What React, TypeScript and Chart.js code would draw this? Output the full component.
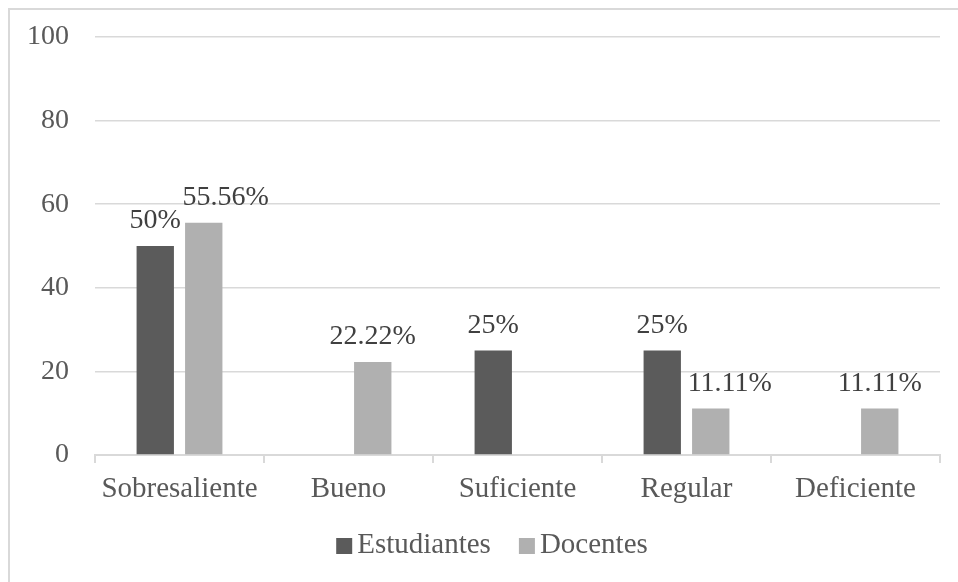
import React, { useEffect, useRef } from "react";
import { Chart, registerables } from "chart.js";

Chart.register(...registerables);

const categories = ["Sobresaliente", "Bueno", "Suficiente", "Regular", "Deficiente"];
const seriesNames = ["Estudiantes", "Docentes"];
const estudiantes = [50, 0, 25, 25, 0];
const docentes = [55.56, 22.22, 0, 11.11, 11.11];
const yTicks = [0, 20, 40, 60, 80, 100];

const FONT = '"Liberation Serif", "Times New Roman", serif';
const COLORS = ["#5b5b5b", "#b0b0b0"];
const TEXT = "#595959";
const LABEL = "#404040";
const GRID = "#d9d9d9";

// style: manual horizontal nudges of some data labels (datasetIndex-categoryIndex)
const labelShift: Record<string, number> = { "1-0": 22, "1-3": 19 };

const dataLabelsPlugin = {
  id: "dataLabels",
  afterDatasetsDraw(chart: any) {
    const ctx = chart.ctx;
    ctx.save();
    ctx.font = `28px ${FONT}`;
    ctx.fillStyle = LABEL;
    ctx.textAlign = "center";
    ctx.textBaseline = "alphabetic";
    chart.data.datasets.forEach((ds: any, di: number) => {
      const meta = chart.getDatasetMeta(di);
      meta.data.forEach((el: any, i: number) => {
        const v = ds.data[i];
        if (!v) return;
        const dx = labelShift[`${di}-${i}`] || 0;
        ctx.fillText(`${v}%`, el.x + dx, el.y - 18);
      });
    });
    ctx.restore();
  },
};

const legendPlugin = {
  id: "customLegend",
  afterDraw(chart: any) {
    const ctx = chart.ctx;
    ctx.save();
    ctx.font = `29px ${FONT}`;
    const box = 16;
    const gap = 5;
    const itemGap = 28;
    const widths = seriesNames.map((n) => box + gap + ctx.measureText(n).width);
    const total = widths.reduce((a, b) => a + b, 0) + itemGap * (seriesNames.length - 1);
    let x = chart.width / 2 + 8 - total / 2;
    const boxTop = 528;
    const baseline = 543;
    seriesNames.forEach((n, i) => {
      ctx.fillStyle = COLORS[i];
      ctx.fillRect(x, boxTop, box, box);
      ctx.fillStyle = TEXT;
      ctx.textAlign = "left";
      ctx.textBaseline = "alphabetic";
      ctx.fillText(n, x + box + gap, baseline);
      x += widths[i] + itemGap;
    });
    ctx.restore();
  },
};

export default function App() {
  const ref = useRef<HTMLCanvasElement>(null);
  useEffect(() => {
    if (!ref.current) return;
    const chart = new Chart(ref.current, {
      type: "bar",
      data: {
        labels: categories,
        datasets: [
          { label: seriesNames[0], data: estudiantes, backgroundColor: COLORS[0], categoryPercentage: 0.574, barPercentage: 0.77 },
          { label: seriesNames[1], data: docentes, backgroundColor: COLORS[1], categoryPercentage: 0.574, barPercentage: 0.77 },
        ],
      },
      options: {
        animation: false,
        responsive: true,
        maintainAspectRatio: false,
        layout: { padding: { top: 27, right: 18, bottom: 60, left: 0 } },
        plugins: { legend: { display: false }, tooltip: { enabled: false } },
        scales: {
          x: {
            grid: { offset: true, drawOnChartArea: false, drawTicks: true, tickLength: 8, color: GRID, lineWidth: 2 },
            border: { display: true, color: GRID, width: 2 },
            ticks: { font: { family: FONT, size: 29 }, color: TEXT, padding: 9, maxRotation: 0, autoSkip: false },
            afterFit: (s: any) => { s.height = 67; s.paddingLeft = 0; s.paddingRight = 0; },
          },
          y: {
            min: 0,
            max: 100,
            afterBuildTicks: (s: any) => { s.ticks = yTicks.map((v) => ({ value: v })); },
            ticks: { stepSize: 20, padding: 26, font: { family: FONT, size: 28 }, color: TEXT },
            grid: { color: GRID, lineWidth: 1.5, drawTicks: false },
            border: { display: false },
            afterFit: (s: any) => { s.width = 85; s.paddingTop = 0; s.paddingBottom = 0; },
          },
        },
      },
      plugins: [dataLabelsPlugin, legendPlugin],
    });
    return () => chart.destroy();
  }, []);

  return (
    <div
      style={{
        position: "fixed",
        left: 8,
        top: 8,
        width: 948,
        height: 572,
        borderLeft: `2px solid ${GRID}`,
        borderTop: `2px solid ${GRID}`,
        background: "#fff",
      }}
    >
      <canvas ref={ref} />
    </div>
  );
}
